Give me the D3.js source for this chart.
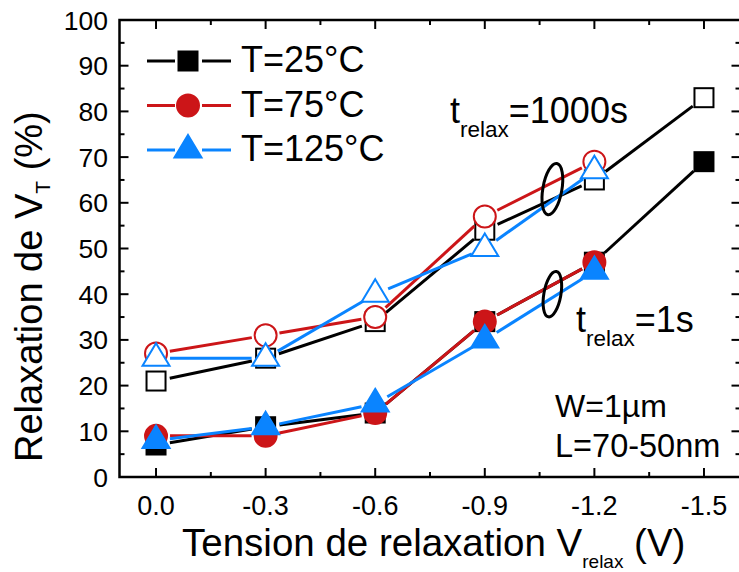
<!DOCTYPE html>
<html>
<head>
<meta charset="utf-8">
<script src="https://cdn.jsdelivr.net/npm/d3@7"></script>
<style>
html,body{margin:0;padding:0;background:#fff;}
svg{display:block;font-family:"Liberation Sans",Arial,sans-serif;}
</style>
</head>
<body>
<svg id="chart" width="739" height="572"></svg>
<script>
// ---- data ----
const voltages = [0.0, -0.3, -0.6, -0.9, -1.2, -1.5];
const xTickLabels = ["0.0", "-0.3", "-0.6", "-0.9", "-1.2", "-1.5"];
const yTicks = [0, 10, 20, 30, 40, 50, 60, 70, 80, 90, 100];
const seriesNames = ["T=25°C", "T=75°C", "T=125°C"];
const seriesColors = ["#000000", "#cc1518", "#0a84ff"];
const seriesShapes = ["square", "circle", "triangle"];
// t_relax = 1000s (open markers)
const open25  = [21, 26, 34, 54, 65, 83];
const open75  = [27, 31, 35, 57, 69];
const open125 = [26, 26, 40, 50, 67];
// t_relax = 1s (filled markers)
const fill25  = [7, 11, 14, 34, 47, 69];
const fill75  = [9, 9, 14, 34, 47];
const fill125 = [8, 11, 16, 30, 45];

const svg = d3.select("#chart");
const x = d3.scaleLinear().domain([0.1, -1.6]).range([119.5, 740.5]);
const y = d3.scaleLinear().domain([0, 100]).range([477, 20]);

const FONT = "'Liberation Sans', Arial, sans-serif";

// ---- frame & ticks ----
const X0 = x.range()[0], X1 = x.range()[1], Y0 = y.range()[0], Y1 = y.range()[1];
const majX = voltages;
const minX = d3.range(0, 5).map(i => -0.15 - 0.3 * i);
const minY = d3.range(5, 100, 10);

const ax = svg.append("g").attr("stroke", "#000").attr("stroke-width", 2);
majX.forEach(v => {
  ax.append("line").attr("x1", x(v)).attr("x2", x(v)).attr("y1", Y0).attr("y2", Y0 - 9);
  ax.append("line").attr("x1", x(v)).attr("x2", x(v)).attr("y1", Y1).attr("y2", Y1 + 9);
});
minX.forEach(v => {
  ax.append("line").attr("x1", x(v)).attr("x2", x(v)).attr("y1", Y0).attr("y2", Y0 - 5);
  ax.append("line").attr("x1", x(v)).attr("x2", x(v)).attr("y1", Y1).attr("y2", Y1 + 5);
});
yTicks.forEach(v => {
  ax.append("line").attr("x1", X0).attr("x2", X0 + 9).attr("y1", y(v)).attr("y2", y(v));
  ax.append("line").attr("x1", X1).attr("x2", X1 - 9).attr("y1", y(v)).attr("y2", y(v));
});
minY.forEach(v => {
  ax.append("line").attr("x1", X0).attr("x2", X0 + 5).attr("y1", y(v)).attr("y2", y(v));
  ax.append("line").attr("x1", X1).attr("x2", X1 - 5).attr("y1", y(v)).attr("y2", y(v));
});
svg.append("rect").attr("x", X0).attr("y", Y1).attr("width", X1 - X0).attr("height", Y0 - Y1)
  .attr("fill", "none").attr("stroke", "#000").attr("stroke-width", 2.5);

// tick labels
svg.append("g").selectAll("text").data(yTicks).join("text")
  .attr("x", 108).attr("y", d => y(d) + 9.5).attr("text-anchor", "end")
  .attr("font-size", 26.5).attr("font-family", FONT).text(d => d);
svg.append("g").selectAll("text").data(voltages).join("text")
  .attr("x", d => x(d)).attr("y", 514.5).attr("text-anchor", "middle")
  .attr("font-size", 27).attr("font-family", FONT).text((d, i) => xTickLabels[i]);

// axis titles
const xt = svg.append("text").attr("x", 182).attr("y", 555.5).attr("font-size", 38.5).attr("font-family", FONT);
xt.append("tspan").text("Tension de relaxation V");
xt.append("tspan").attr("font-size", 19).attr("dy", 12).text("relax");
xt.append("tspan").attr("font-size", 38.5).attr("dy", -12).text(" (V)");

const yt = svg.append("text").attr("transform", "translate(42,462) rotate(-90)")
  .attr("font-size", 38).attr("font-family", FONT);
yt.append("tspan").text("Relaxation de V");
yt.append("tspan").attr("font-size", 21).attr("dy", 8).text("T");
yt.append("tspan").attr("font-size", 38).attr("dy", -8).text(" (%)");

// ---- marker + gapped line drawing ----
function marker(g, shape, cx, cy, color, filled) {
  const sw = 2;
  const fill = filled ? color : "#fff";
  if (shape === "square") {
    g.append("rect").attr("x", cx - 9.5).attr("y", cy - 9.5).attr("width", 19).attr("height", 19)
      .attr("fill", fill).attr("stroke", color).attr("stroke-width", sw);
  } else if (shape === "circle") {
    g.append("circle").attr("cx", cx).attr("cy", cy).attr("r", 11)
      .attr("fill", fill).attr("stroke", color).attr("stroke-width", sw);
  } else {
    const pts = [[cx, cy - 15], [cx + 13.5, cy + 7.5], [cx - 13.5, cy + 7.5]];
    g.append("polygon").attr("points", pts.map(p => p.join(",")).join(" "))
      .attr("fill", fill).attr("stroke", color).attr("stroke-width", sw).attr("stroke-linejoin", "miter");
  }
}
function gappedLine(g, pts, color, gap) {
  for (let i = 0; i < pts.length - 1; i++) {
    const [ax1, ay1] = pts[i], [bx, by] = pts[i + 1];
    const dx = bx - ax1, dy = by - ay1, L = Math.hypot(dx, dy);
    if (L <= 2 * gap) continue;
    const ux = dx / L, uy = dy / L;
    g.append("line").attr("x1", ax1 + ux * gap).attr("y1", ay1 + uy * gap)
      .attr("x2", bx - ux * gap).attr("y2", by - uy * gap)
      .attr("stroke", color).attr("stroke-width", 3);
  }
}
const allSeries = [
  {vals: open25, s: 0, filled: false}, {vals: open75, s: 1, filled: false}, {vals: open125, s: 2, filled: false},
  {vals: fill25, s: 0, filled: true}, {vals: fill75, s: 1, filled: true}, {vals: fill125, s: 2, filled: true}
];
const plot = svg.append("g");
allSeries.forEach(se => {
  const g = plot.append("g");
  const pts = se.vals.map((v, i) => [x(voltages[i]), y(v)]);
  gappedLine(g, pts, seriesColors[se.s], 14);
  pts.forEach(p => marker(g, seriesShapes[se.s], p[0], p[1], seriesColors[se.s], se.filled));
});

// ---- ellipses ----
svg.append("ellipse").attr("cx", 0).attr("cy", 0).attr("rx", 9.5).attr("ry", 26)
  .attr("transform", `translate(${x(-1.085)},${y(63)}) rotate(10)`)
  .attr("fill", "none").attr("stroke", "#000").attr("stroke-width", 3);
svg.append("ellipse").attr("cx", 0).attr("cy", 0).attr("rx", 8.5).attr("ry", 23)
  .attr("transform", `translate(${x(-1.085)},${y(40)}) rotate(10)`)
  .attr("fill", "none").attr("stroke", "#000").attr("stroke-width", 3);

// ---- annotations ----
function tRelax(xp, yp, rest) {
  const t = svg.append("text").attr("x", xp).attr("y", yp).attr("font-size", 36).attr("font-family", FONT);
  t.append("tspan").text("t");
  t.append("tspan").attr("font-size", 22.5).attr("dy", 14).text("relax");
  t.append("tspan").attr("font-size", 36).attr("dy", -14).text(rest);
}
tRelax(450, 123, "=1000s");
tRelax(576, 332, "=1s");
svg.append("text").attr("x", 555).attr("y", 417).attr("font-size", 32).attr("font-family", FONT).text("W=1µm");
svg.append("text").attr("x", 555).attr("y", 457).attr("font-size", 32.5).attr("font-family", FONT).text("L=70-50nm");

// ---- legend ----
const legY = [61, 105.5, 150];
seriesNames.forEach((name, i) => {
  const g = svg.append("g");
  g.append("line").attr("x1", 147).attr("x2", 175).attr("y1", legY[i]).attr("y2", legY[i])
    .attr("stroke", seriesColors[i]).attr("stroke-width", 3);
  g.append("line").attr("x1", 202).attr("x2", 231).attr("y1", legY[i]).attr("y2", legY[i])
    .attr("stroke", seriesColors[i]).attr("stroke-width", 3);
  marker(g, seriesShapes[i], 188, legY[i], seriesColors[i], true);
  g.append("text").attr("x", 241).attr("y", legY[i] + 11).attr("font-size", 36).attr("font-family", FONT).text(name);
});
</script>
</body>
</html>
